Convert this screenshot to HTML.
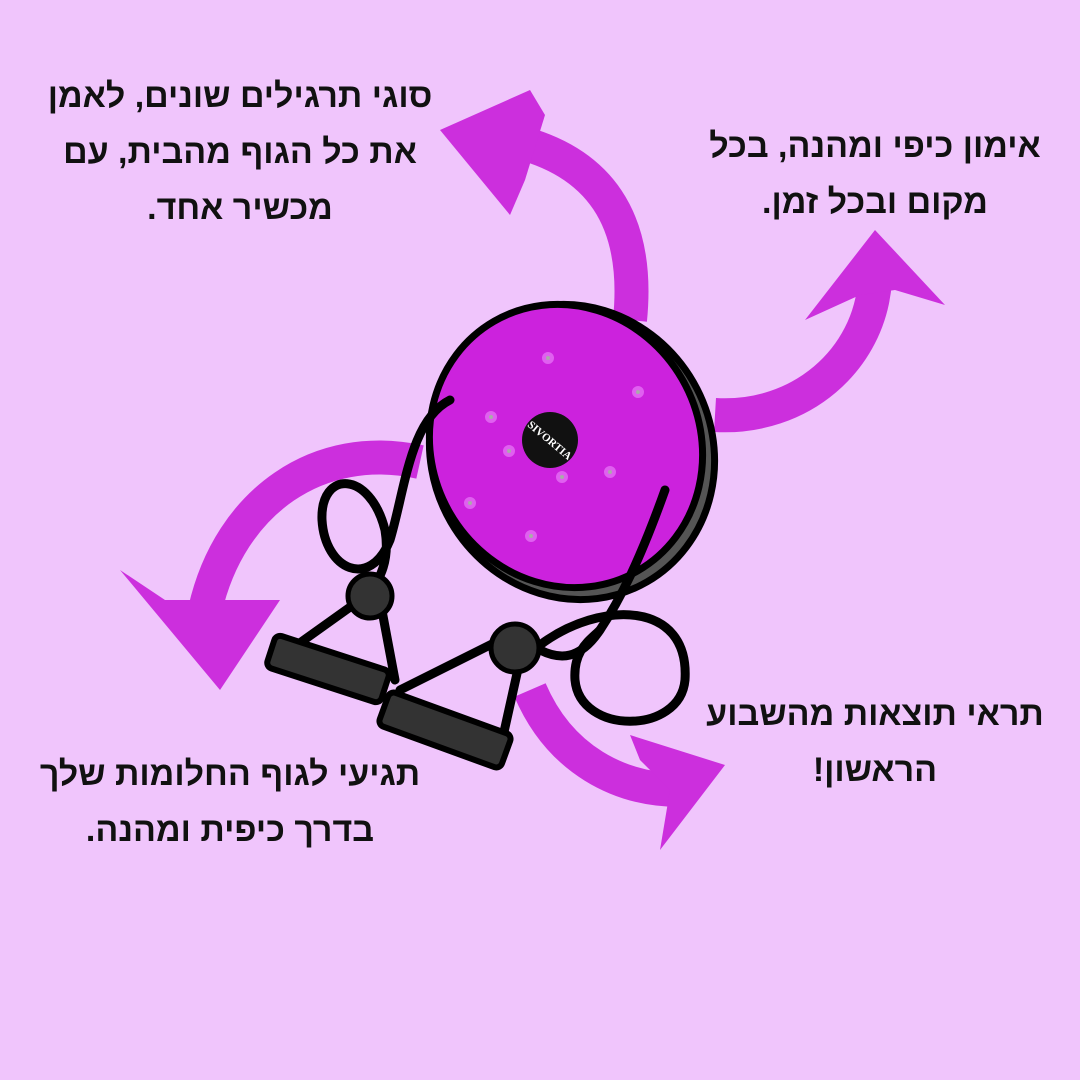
<!DOCTYPE html>
<html><head><meta charset="utf-8"><style>
html,body{margin:0;padding:0}
body{width:1080px;height:1080px;background:#f0c5fc;position:relative;overflow:hidden;font-family:"Liberation Sans","Noto Sans CJK SC",sans-serif}
.t{position:absolute;direction:rtl;text-align:center;font-weight:bold;font-size:34px;line-height:56px;color:#111;white-space:nowrap}
svg{position:absolute;left:0;top:0}
</style></head><body>
<svg width="1080" height="1080" viewBox="0 0 1080 1080">
<g fill="none" stroke="#cc2fdd" stroke-width="34" stroke-linecap="butt">
<path d="M630 320 C640 220 600 160 510 140"/>
<path d="M715 415 C800 420 870 360 875 280"/>
<path d="M420 462 C320 440 230 500 205 610"/>
<path d="M530 690 C560 760 620 790 680 790"/>
</g>
<g fill="#cc2fdd">
<polygon points="440,130 530,90 545,115 525,180 510,215"/>
<polygon points="805,320 875,230 945,305 895,290 860,295"/>
<polygon points="120,570 165,600 240,600 280,600 220,690"/>
<polygon points="630,735 725,765 660,850 670,790 640,760"/>
</g>
<!-- disc -->
<ellipse cx="572" cy="452" rx="150" ry="140" transform="rotate(60 572 452)" fill="#555" stroke="#000" stroke-width="7"/>
<ellipse cx="566" cy="446" rx="144" ry="134" transform="rotate(60 566 446)" fill="#cc22dd" stroke="#000" stroke-width="7"/>
<circle cx="550" cy="440" r="28" fill="#111"/>
<text x="550" y="444" font-family="Liberation Serif" font-size="11" font-weight="bold" fill="#fff" text-anchor="middle" transform="rotate(40 550 440)">SIVORTIA</text>
<g fill="#aaa" stroke="#e060f0" stroke-width="4">
<circle cx="548" cy="358" r="4"/><circle cx="638" cy="392" r="4"/><circle cx="491" cy="417" r="4"/>
<circle cx="509" cy="451" r="4"/><circle cx="562" cy="477" r="4"/><circle cx="610" cy="472" r="4"/>
<circle cx="470" cy="503" r="4"/><circle cx="531" cy="536" r="4"/>
</g>
<!-- bands -->
<g fill="none" stroke="#000" stroke-width="9" stroke-linecap="round">
<path d="M450 400 C410 420 405 490 390 540 C370 590 325 570 322 520 C320 470 370 470 385 530 C390 560 380 580 370 590"/>
<path d="M665 490 C640 560 620 600 600 630 C580 660 560 660 540 650"/>
<path d="M540 645 C600 600 690 600 685 680 C680 735 580 735 575 680 C573 650 590 640 600 630"/>
<path d="M360 600 L290 650 M380 600 L395 680"/>
<path d="M500 640 L400 690 M520 660 L500 750"/>
</g>
<circle cx="370" cy="596" r="22" fill="#333" stroke="#000" stroke-width="5"/>
<circle cx="515" cy="648" r="24" fill="#333" stroke="#000" stroke-width="5"/>
<rect x="268" y="652" width="120" height="34" rx="6" fill="#333" stroke="#000" stroke-width="6" transform="rotate(18 328 669)"/>
<rect x="380" y="712" width="130" height="36" rx="6" fill="#333" stroke="#000" stroke-width="6" transform="rotate(20 445 730)"/>
</svg>
<div class="t" style="left:40px;top:68px;width:400px">סוגי תרגילים שונים, לאמן<br>את כל הגוף מהבית, עם<br>מכשיר אחד.</div>
<div class="t" style="left:690px;top:118px;width:370px">אימון כיפי ומהנה, בכל<br>מקום ובכל זמן.</div>
<div class="t" style="left:690px;top:686px;width:370px">תראי תוצאות מהשבוע<br>הראשון!</div>
<div class="t" style="left:30px;top:746px;width:400px">תגיעי לגוף החלומות שלך<br>בדרך כיפית ומהנה.</div>
</body></html>
